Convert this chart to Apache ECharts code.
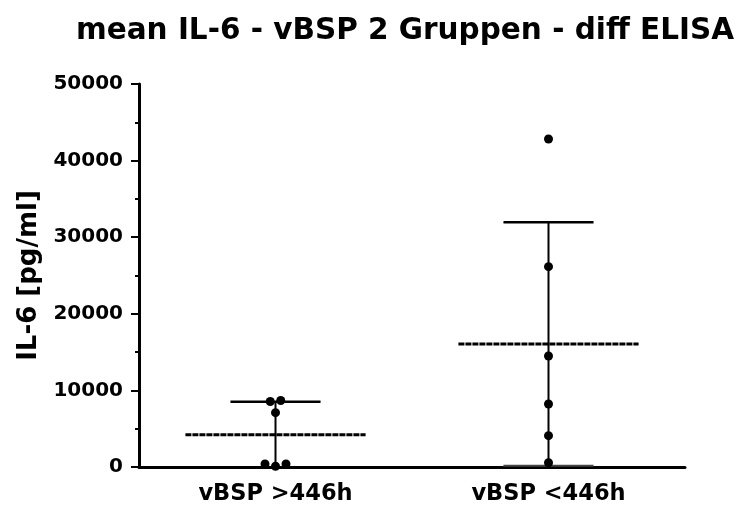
<!DOCTYPE html>
<html>
<head>
<meta charset="utf-8">
<script src="https://cdn.jsdelivr.net/npm/echarts@6/dist/echarts.min.js"></script>
<style>
html,body{margin:0;padding:0;background:#fff;}
#chart{width:737px;height:511px;}
</style>
</head>
<body>
<div id="chart"></div>
<script>
// ---- data ----
const titleText = 'mean IL-6 - vBSP 2 Gruppen - diff ELISA';
const yAxisName = 'IL-6 [pg/ml]';
const categories = ['vBSP >446h', 'vBSP <446h'];
const groupAbove446 = [8550, 8680, 7090, 400, 100, 400];
const groupBelow446 = [42820, 26150, 14490, 8225, 4090, 560];
const yMin = 0, yMax = 50000, yStep = 10000;

const groups = [groupAbove446, groupBelow446];

function mean(a){ return a.reduce((s,v)=>s+v,0)/a.length; }
function sd(a){ const m = mean(a); return Math.sqrt(a.reduce((s,v)=>s+(v-m)*(v-m),0)/(a.length-1)); }
const statsData = groups.map((g,i)=>[i, mean(g), sd(g)]);

const FONT = 'DejaVu Sans';
const chart = echarts.init(document.getElementById('chart'), null, {renderer:'canvas'});

const scatterData = [];
groups.forEach((g,i)=>g.forEach(v=>scatterData.push({value:[i, v]})));

const option = {
  backgroundColor:'#fff',
  animation:false,
  title:{
    text:titleText,
    left:400, top:11, textAlign:'center',
    textStyle:{fontFamily:FONT, fontWeight:'bold', fontSize:29.5, color:'#000'}
  },
  grid:{left:139, right:52, top:84, bottom:44, containLabel:false},
  xAxis:{
    type:'category', data:categories, boundaryGap:true,
    axisLine:{lineStyle:{color:'#000', width:3}},
    axisTick:{alignWithLabel:true, length:8, lineStyle:{color:'#000', width:3}},
    axisLabel:{margin:16, color:'#000', fontFamily:FONT, fontWeight:'bold', fontSize:22.5},
    splitLine:{show:false}
  },
  yAxis:{
    type:'value', min:yMin, max:yMax, interval:yStep,
    name:yAxisName, nameLocation:'middle', nameGap:92, nameRotate:90,
    nameTextStyle:{fontFamily:FONT, fontWeight:'bold', fontSize:26, color:'#000'},
    axisLine:{show:true, lineStyle:{color:'#000', width:3}},
    axisTick:{show:true, length:8, lineStyle:{color:'#000', width:2}},
    minorTick:{show:true, splitNumber:2, length:4, lineStyle:{color:'#000', width:2}},
    axisLabel:{margin:16, color:'#000', fontFamily:FONT, fontWeight:'bold', fontSize:20,
      formatter:function(v){ return String(v); }},
    splitLine:{show:false}
  },
  series:[
    {
      type:'custom', z:2,
      data:statsData,
      encode:{x:0, y:1},
      renderItem:function(params, api){
        const c = api.value(0), m = api.value(1), s = api.value(2);
        const bw = api.size([1,0])[0];
        const pm = api.coord([c, m]);
        const pu = api.coord([c, m + s]);
        const low = m - s;
        const pl = api.coord([c, Math.max(low, yMin)]);
        const cx = pm[0];
        const meanHalf = bw*0.33, capHalf = bw*0.165;
        const kids = [
          {type:'line', shape:{x1:cx, y1:pu[1], x2:cx, y2:pl[1]}, style:{stroke:'#000', lineWidth:2}},
          {type:'line', shape:{x1:cx-capHalf, y1:pu[1], x2:cx+capHalf, y2:pu[1]}, style:{stroke:'#000', lineWidth:2.5}},
          {type:'line', shape:{x1:cx-meanHalf, y1:pm[1], x2:cx+meanHalf, y2:pm[1]}, style:{stroke:'#000', lineWidth:3, lineDash:[6,1]}}
        ];
        if (low >= yMin) {
          kids.push({type:'line', shape:{x1:cx-capHalf, y1:pl[1], x2:cx+capHalf, y2:pl[1]}, style:{stroke:'#444', lineWidth:2}});
        }
        return {type:'group', children:kids};
      }
    },
    {
      type:'scatter', z:3,
      symbol:'circle', symbolSize:9,
      itemStyle:{color:'#000', opacity:1},
      emphasis:{disabled:true},
      data:scatterData
    }
  ]
};
chart.setOption(option);

// spread overlapping points horizontally (beeswarm-like), as the reference does
(function(){
  const SYM = 9, STEP = 10.5;
  const newData = [];
  groups.forEach((g,i)=>{
    const pts = g.map((v,k)=>({v:v, k:k, y:chart.convertToPixel({gridIndex:0}, [i, v])[1]}));
    const sorted = pts.slice().sort((a,b)=>a.y-b.y);
    const clusters = [];
    sorted.forEach(p=>{
      const last = clusters[clusters.length-1];
      if (last && Math.abs(p.y - last[last.length-1].y) < SYM) last.push(p); else clusters.push([p]);
    });
    const off = {};
    clusters.forEach(cl=>{
      cl.sort((a,b)=>a.k-b.k);
      cl.forEach((p,j)=>{ off[p.k] = (j - (cl.length-1)/2)*STEP; });
    });
    g.forEach((v,k)=>newData.push({value:[i, v], symbolOffset:[off[k], 0]}));
  });
  chart.setOption({series:[{}, {data:newData}]});
})();
</script>
</body>
</html>
